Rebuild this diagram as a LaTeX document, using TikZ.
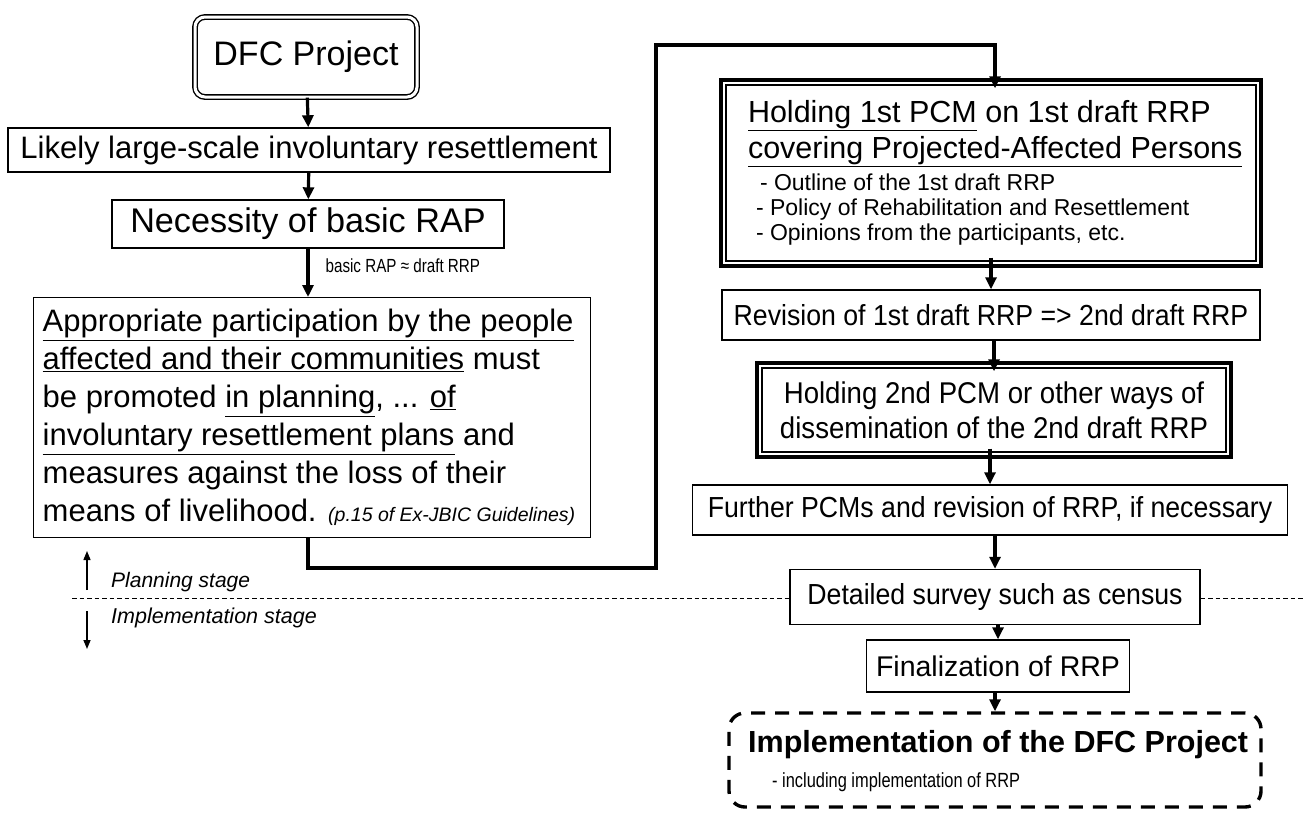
\documentclass[tikz,border=0pt]{standalone}
\usepackage{fontspec}
\setmainfont{Liberation Sans}
\newfontfamily\narrowfont{Liberation Sans}[FakeStretch=0.92]
\newfontfamily\slimfont{Liberation Sans}[FakeStretch=0.8]
\usetikzlibrary{arrows.meta,calc}

\newcommand\ulx[1]{\underline{#1}}
\newcommand\fsz[2]{\fontsize{#1}{#2}\selectfont\spaceskip=0pt\xspaceskip=0pt\relax}

\begin{document}
\begin{tikzpicture}[x=1pt,y=-1pt,
  plainbox/.style={draw, line width=1.4pt, inner sep=0pt, align=flush center},
  framebox/.style={draw, line width=1.4pt, inner sep=0pt, align=flush left},
  flowarrow/.style={line width=3.2pt, -{Triangle[length=12pt,width=11pt]}},
  looparrow/.style={line width=3.8pt, -{Triangle[length=12pt,width=11pt]}},
  stagearrow/.style={line width=1.4pt, -{Triangle[length=9pt,width=7pt]}},
  stageline/.style={line width=0.9pt, dash pattern=on 4.5pt off 3pt},
  outerframe/.style={line width=3.8pt},
]
\useasboundingbox (0,0) rectangle (1303,814);

% ---------- left column ----------
\node[plainbox, rounded corners=10pt, double, double distance=3pt,
      minimum width=222, minimum height=80, font=\fsz{34}{40}]
  (dfc) at (306,57) {DFC Project};

\node[plainbox, minimum width=602, minimum height=44, font=\fsz{31}{36}]
  (likely) at (309,150) {Likely large-scale involuntary resettlement};

\node[plainbox, minimum width=392, minimum height=48, font=\fsz{34.2}{40}]
  (need) at (308,224) {Necessity of basic RAP};

\node[framebox, anchor=north west, minimum width=557, minimum height=240,
      text width=539, inner xsep=9pt, inner ysep=6pt, font=\fsz{31}{38}]
  (approp) at (33,297) {%
  \ulx{Appropriate participation by the people}\\
  \ulx{affected and their communities} must\\
  be promoted \ulx{in planning}, ... \ulx{of}\\
  \ulx{involuntary resettlement plans} and\\
  measures against the loss of their\\
  means of livelihood. {\itshape\fsz{19.5}{20}(p.15 of Ex-JBIC Guidelines)}};

\draw[flowarrow] (dfc) -- (likely);
\draw[flowarrow] (likely) -- (need);
\draw[flowarrow] (need) -- (need.south |- approp.north)
  node[pos=0.36, right=16pt, inner sep=0pt, font=\slimfont\fsz{19}{22}] (eqlabel) {basic RAP ≈ draft RRP};

% ---------- right column ----------
\node[framebox, minimum width=530, minimum height=176,
      text width=486, inner xsep=22pt, font=\fsz{30.5}{36}]
  (pcm1) at (991,173) {%
  \ulx{Holding 1st PCM} on 1st draft RRP\\
  \ulx{covering Projected-Affected Persons}\\[-4pt]
  {\fsz{23}{25}\hspace*{12pt}- Outline of the 1st draft RRP}\\[-11pt]
  {\fsz{23}{25}\hspace*{8pt}- Policy of Rehabilitation and Resettlement}\\[-11pt]
  {\fsz{23}{25}\hspace*{8pt}- Opinions from the participants, etc.}};
\draw[outerframe] ([shift={(-4,-4)}]pcm1.north west) rectangle ([shift={(4,4)}]pcm1.south east);

\node[plainbox, minimum width=538, minimum height=50, font=\narrowfont\fsz{29}{34}]
  (rev) at (991,315) {Revision of 1st draft RRP => 2nd draft RRP};

\node[plainbox, minimum width=464, minimum height=84, font=\narrowfont\fsz{30}{35}]
  (pcm2) at (994,410) {Holding 2nd PCM or other ways of\\dissemination of the 2nd draft RRP};
\draw[outerframe] ([shift={(-4,-4)}]pcm2.north west) rectangle ([shift={(4,4)}]pcm2.south east);

\node[plainbox, minimum width=595, minimum height=50, font=\narrowfont\fsz{29}{34}]
  (further) at (990,510) {Further PCMs and revision of RRP, if necessary};

\node[plainbox, minimum width=410, minimum height=55, font=\narrowfont\fsz{29}{34}]
  (survey) at (995,597) {Detailed survey such as census};

\node[plainbox, minimum width=263, minimum height=52, font=\fsz{28.5}{34}]
  (final) at (998,666) {Finalization of RRP};

\node[draw, line width=3.4pt, dash pattern=on 14pt off 10pt, rounded corners=16pt,
      minimum width=532, minimum height=94, inner sep=0pt]
  (impl) at (995,760) {};
\node[anchor=west, inner sep=0pt, font=\bfseries\fsz{30.5}{36}]
  (impltitle) at (748,745) {Implementation of the DFC Project};
\node[anchor=west, inner sep=0pt, font=\slimfont\fsz{20.5}{24}]
  (implnote) at (772,782) {- including implementation of RRP};

% ---------- connectors on the right ----------
\coordinate (loopbottom) at (656,568);
\coordinate (looptop) at (656,45);
\draw[looparrow]
  (approp.south -| need.south) |- (loopbottom) -- (looptop)
  -| ([yshift=-4pt]pcm1.north -| 995,0);

\draw[flowarrow] ([yshift=4pt]pcm1.south -| rev.north) -- (rev.north);
\draw[flowarrow] (rev.south -| pcm2.north) -- ([yshift=-4pt]pcm2.north);
\draw[flowarrow] ([yshift=4pt]pcm2.south -| further.north) -- (further.north);
\draw[flowarrow] (further.south -| survey.north) -- (survey.north);
\draw[flowarrow] (survey.south -| final.north) -- (final.north);
\draw[flowarrow] (final.south -| impl.north) -- (impl.north);

% ---------- stage markers ----------
\coordinate (stageleft) at (72,598);
\coordinate (stageright) at (1303,598);
\draw[stageline] (stageleft) -- (survey.west |- stageleft);
\draw[stageline] (survey.east |- stageright) -- (stageright);

\coordinate (upfoot) at (87,590);
\coordinate (uptip) at (87,551);
\coordinate (downfoot) at (87,611);
\coordinate (downtip) at (87,649);
\draw[stagearrow] (upfoot) -- (uptip);
\draw[stagearrow] (downfoot) -- (downtip);
\node[anchor=west, inner sep=0pt, font=\itshape\fsz{21}{24}]
  (planlabel) at (111,582) {Planning stage};
\node[anchor=west, inner sep=0pt, font=\itshape\fsz{21.5}{24}]
  (impllabel) at (111,618) {Implementation stage};
\end{tikzpicture}
\end{document}
